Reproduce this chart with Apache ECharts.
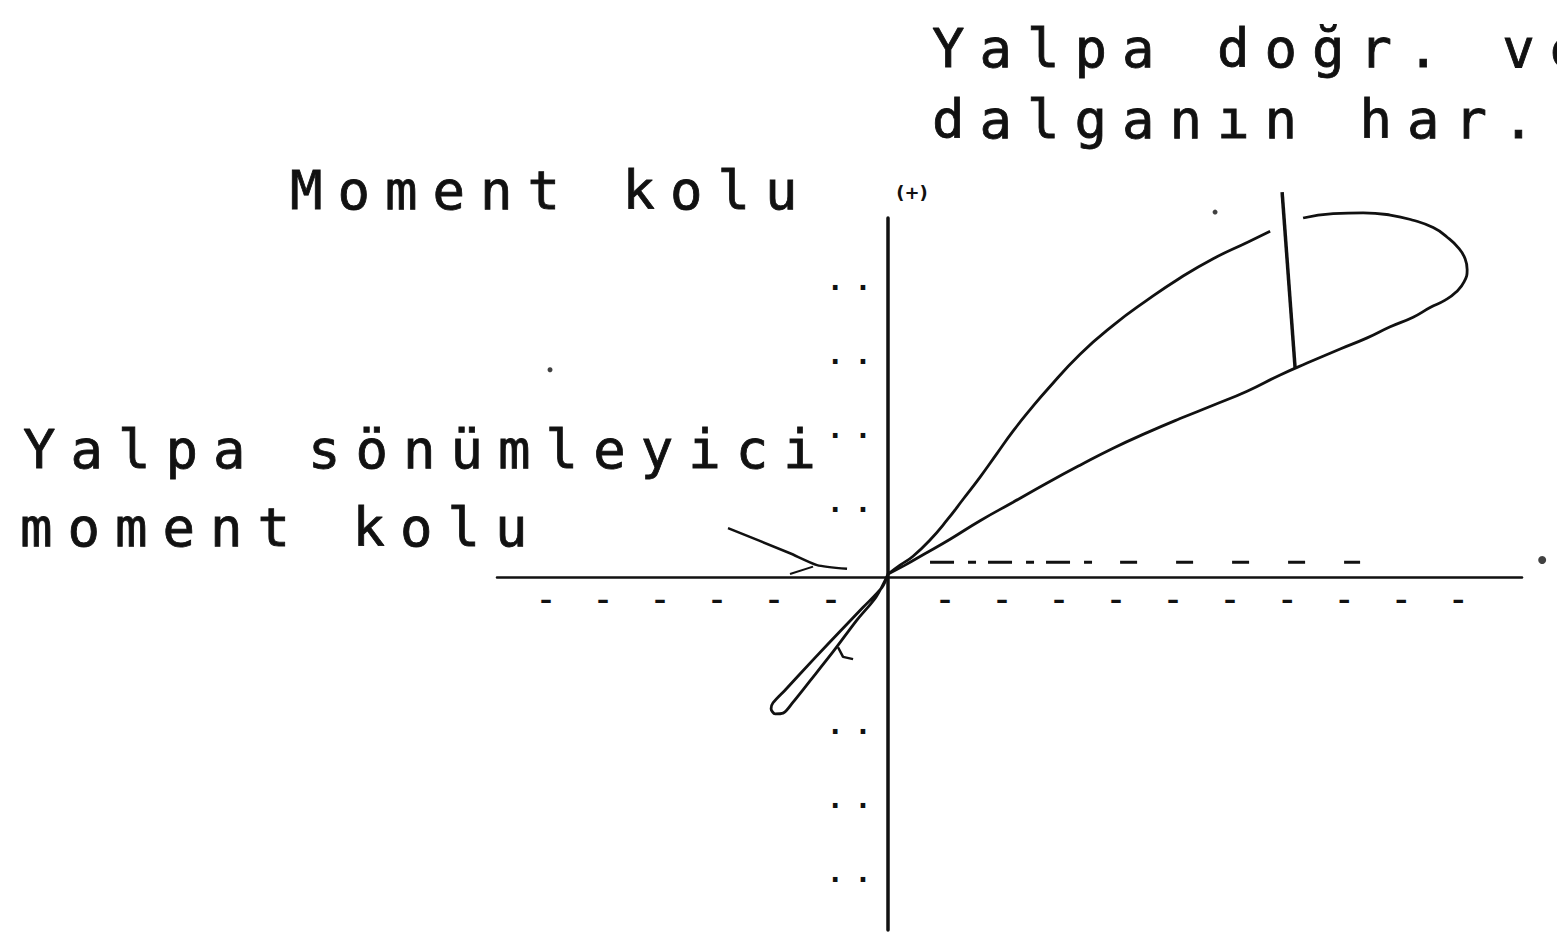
<!DOCTYPE html>
<html>
<head>
<meta charset="utf-8">
<script src="https://cdn.jsdelivr.net/npm/echarts@6/dist/echarts.min.js"></script>
<style>
  html, body { margin: 0; padding: 0; background: #ffffff; }
  #chart { width: 1557px; height: 938px; }
  /* wide, typewriter-like tracking for the annotation captions */
  #chart text[style*="DejaVu Sans Mono"] { letter-spacing: 15px; }
</style>
</head>
<body>
<div id="chart"></div>
<script>
// Heel angle (deg) on x, moment arm (m) on y.
const xTickValues = [-30, -25, -20, -15, -10, -5, 5, 10, 15, 20, 25, 30, 35, 40, 45, 50];
const yTickValues = [0.4, 0.3, 0.2, 0.1, -0.2, -0.3, -0.4];
const xTickMark = '–';
const yTickMark = '.  .';

// Small loop on the negative side (outer edge down, inner edge back up).
const loopNegative = [
  [0, 0.004], [-0.53, -0.014], [-2.19, -0.041], [-4.12, -0.072], [-6.58, -0.112],
  [-9.04, -0.153], [-10.09, -0.170], [-10.26, -0.178], [-9.91, -0.185], [-9.21, -0.184],
  [-8.33, -0.169], [-6.93, -0.142], [-4.82, -0.101], [-2.72, -0.058], [-1.05, -0.027], [0, 0.004]
];

// Large loop, rising branch up to the wave-crest line.
const loopRising = [
  [0, 0.004], [1.05, 0.016], [2.19, 0.028], [3.68, 0.050], [5.18, 0.077], [6.58, 0.105],
  [8.07, 0.135], [9.56, 0.167], [10.96, 0.197], [12.46, 0.226], [13.95, 0.253],
  [16.84, 0.301], [19.74, 0.340], [22.72, 0.374], [25.61, 0.404], [28.51, 0.430],
  [31.49, 0.452], [33.51, 0.467]
];

// Large loop, from beyond the crest line round the tip and back to the origin.
const loopReturn = [
  [36.40, 0.485], [39.04, 0.491], [41.67, 0.492], [44.04, 0.489], [46.05, 0.482],
  [47.81, 0.472], [49.04, 0.459], [50.00, 0.445], [50.61, 0.430], [50.79, 0.415],
  [50.53, 0.399], [49.82, 0.385], [48.86, 0.374], [47.54, 0.364], [46.05, 0.351],
  [44.04, 0.338], [42.02, 0.323], [39.65, 0.308], [36.75, 0.289], [34.39, 0.273],
  [31.49, 0.251], [28.51, 0.232], [25.61, 0.214], [22.72, 0.195], [19.74, 0.174],
  [16.84, 0.151], [13.95, 0.127], [10.96, 0.101], [8.07, 0.076], [5.44, 0.051],
  [3.07, 0.030], [1.49, 0.016], [0, 0.004]
];

// Wave-crest marker crossing the large loop.
const crestLine = [[34.56, 0.520], [35.70, 0.282]];

// Leader from the damping caption to the arm near the origin.
const dampingLeader = [[-14.04, 0.066], [-8.60, 0.032], [-6.23, 0.016], [-3.60, 0.011]];
const dampingLeaderFork = [[-6.58, 0.014], [-8.60, 0.004]];

// Short hook on the small loop.
const loopHook = [[-4.39, -0.095], [-3.95, -0.108], [-3.07, -0.111]];

// Broken reference line just above the angle axis.
const refLineNear = [[3.68, 0.020], [18.60, 0.020]];
const refLineFar = [[20.35, 0.020], [41.40, 0.020]];

// Axis end point and loose dots.
const axisEndDot = [[57.37, 0.023]];
const looseDots = [[28.68, 0.493], [-29.65, 0.280]];

// Caption lines.
const captionCrest = ['Yalpa doğr. ve', 'dalganın har.'];
const captionArm = 'Moment kolu';
const captionDamping = ['Yalpa sönümleyici', 'moment kolu'];
const axisSign = '(+)';

const INK = '#111111';
const GRID = { left: 497, right: 35, top: 218, bottom: 8 };
const ORIGIN_PX = { x: 888, y: 577 };

const chart = echarts.init(document.getElementById('chart'), null, { renderer: 'svg' });

const captionFont = { fontFamily: 'DejaVu Sans Mono', fontSize: 54, fill: INK, stroke: INK, lineWidth: 0.8 };

function lineSeries(data, width, extra) {
  return Object.assign({
    type: 'line',
    data: data,
    showSymbol: false,
    symbol: 'none',
    clip: false,
    silent: true,
    animation: false,
    lineStyle: { color: INK, width: width }
  }, extra || {});
}

function caption(text, x, y) {
  return {
    type: 'text', x: x, y: y, silent: true,
    style: Object.assign({ text: text, align: 'left', verticalAlign: 'middle' }, captionFont)
  };
}

chart.setOption({
  backgroundColor: '#ffffff',
  animation: false,
  grid: Object.assign({ containLabel: false, outerBoundsMode: 'none' }, GRID),
  xAxis: {
    type: 'value',
    min: -34.3,
    max: 55.6,
    position: 'bottom',
    // the angle axis runs through the origin of the arm axis
    offset: -(938 - GRID.bottom - ORIGIN_PX.y),
    axisLine: { onZero: false, lineStyle: { color: INK, width: 2.5 } },
    axisTick: { show: false },
    splitLine: { show: false },
    axisLabel: {
      customValues: xTickValues,
      formatter: function () { return xTickMark; },
      color: INK,
      fontFamily: 'DejaVu Sans',
      fontWeight: 'bold',
      fontSize: 24,
      margin: 11
    }
  },
  yAxis: {
    type: 'value',
    min: -0.477,
    max: 0.485,
    position: 'left',
    offset: -(ORIGIN_PX.x - GRID.left),
    axisLine: { onZero: false, lineStyle: { color: INK, width: 3.5 } },
    axisTick: { show: false },
    splitLine: { show: false },
    axisLabel: {
      customValues: yTickValues,
      formatter: function () { return yTickMark; },
      color: INK,
      fontFamily: 'DejaVu Sans',
      fontWeight: 'bold',
      fontSize: 26,
      margin: 20
    }
  },
  series: [
    lineSeries(loopNegative, 2.8, { smooth: 0.3 }),
    lineSeries(loopRising, 2.8, { smooth: 0.5 }),
    lineSeries(loopReturn, 2.8, { smooth: 0.5 }),
    lineSeries(crestLine, 3.5),
    lineSeries(dampingLeader, 2.5, { smooth: 0.2 }),
    lineSeries(dampingLeaderFork, 2),
    lineSeries(loopHook, 2.5),
    lineSeries(refLineNear, 3, { lineStyle: { color: INK, width: 3, type: [24, 14, 8, 12] } }),
    lineSeries(refLineFar, 3, { lineStyle: { color: INK, width: 3, type: [17, 39] } }),
    {
      type: 'scatter', data: axisEndDot, symbol: 'circle', symbolSize: 8,
      itemStyle: { color: INK }, clip: false, silent: true, animation: false
    },
    {
      type: 'scatter', data: looseDots, symbol: 'circle', symbolSize: 5,
      itemStyle: { color: INK }, clip: false, silent: true, animation: false
    }
  ],
  graphic: [
    caption(captionCrest[0], 932, 48),
    caption(captionCrest[1], 932, 119),
    caption(captionArm, 290, 190),
    caption(captionDamping[0], 23, 449),
    caption(captionDamping[1], 20, 527),
    { type: 'text', x: 912, y: 192, silent: true,
      style: { text: axisSign, align: 'center', verticalAlign: 'middle',
               fontFamily: 'DejaVu Sans', fontWeight: 'bold', fontSize: 18, fill: INK } }
  ]
});
</script>
</body>
</html>
